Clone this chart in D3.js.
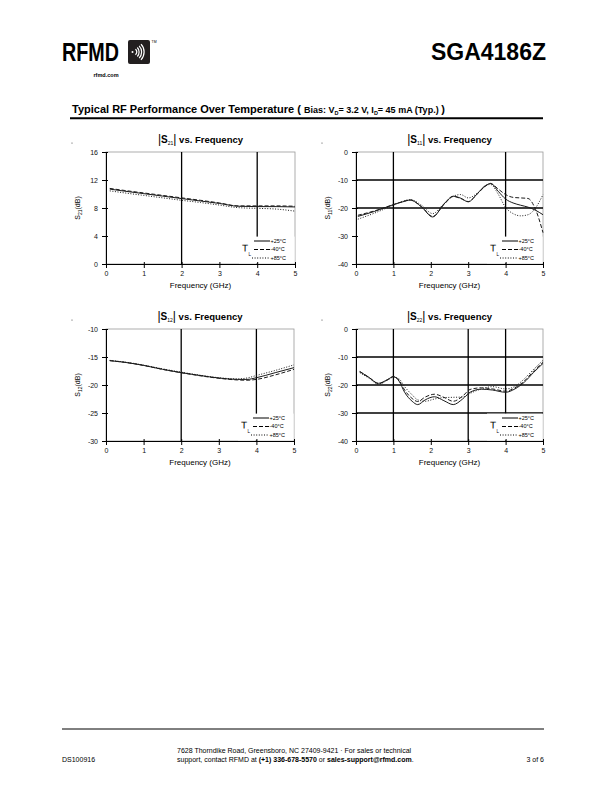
<!DOCTYPE html>
<html>
<head>
<meta charset="utf-8">
<script src="https://cdn.jsdelivr.net/npm/d3@7"></script>
<style>
body { margin: 0; background: #fff; }
svg { display: block; font-family: "Liberation Sans", Arial, sans-serif; }
</style>
</head>
<body>
<svg id="page" width="612" height="792"></svg>
<script>
// legend / series labels
var tempLabels = ["+25°C", "-40°C", "+85°C"];
var freqTicks = [0, 1, 2, 3, 4, 5];

// |S21|
var s21Freq = [0.1, 0.5, 1, 1.5, 2, 2.5, 3, 3.5, 4, 4.5, 5];
var s21P25 = [10.7, 10.4, 10.05, 9.7, 9.35, 9.0, 8.65, 8.25, 8.2, 8.2, 8.15];
var s21M40 = [10.8, 10.5, 10.15, 9.8, 9.45, 9.1, 8.72, 8.3, 8.3, 8.3, 8.25];
var s21P85 = [10.45, 10.15, 9.8, 9.45, 9.1, 8.78, 8.42, 8.05, 7.95, 7.85, 7.55];
var s21Ticks = [0, 4, 8, 12, 16];

// |S11|
var s11Freq = [0.05, 0.5, 1.0, 1.25, 1.45, 1.75, 2.05, 2.35, 2.6, 2.8, 3.0, 3.25, 3.45, 3.6, 3.8, 4.0, 4.2, 4.4, 4.6, 4.8, 5.0];
var s11P25 = [-23.0, -21.2, -18.8, -17.8, -17.2, -19.6, -23.2, -18.6, -15.8, -16.5, -17.8, -14.8, -12.2, -11.2, -14.0, -16.8, -18.2, -19.0, -19.7, -20.8, -22.4];
var s11M40 = [-22.6, -21.0, -18.8, -17.7, -17.1, -19.5, -23.0, -18.8, -15.9, -16.6, -17.7, -14.9, -12.3, -11.3, -13.2, -15.2, -16.2, -16.4, -16.6, -20.5, -28.8];
var s11P85 = [-24.0, -21.8, -19.0, -17.6, -17.0, -19.0, -22.0, -18.5, -15.8, -15.2, -16.4, -14.6, -12.0, -11.6, -15.0, -19.8, -22.0, -22.8, -22.4, -20.0, -15.2];
var s11Ticks = [-40, -30, -20, -10, 0];

// |S12|
var s12Freq = [0.1, 0.5, 1, 1.5, 2, 2.5, 3, 3.5, 3.75, 4, 4.5, 5];
var s12P25 = [-15.65, -15.95, -16.5, -17.2, -17.8, -18.3, -18.75, -19.0, -19.0, -18.7, -17.8, -16.9];
var s12M40 = [-15.65, -15.95, -16.5, -17.2, -17.8, -18.35, -18.8, -19.1, -19.15, -19.0, -18.2, -17.2];
var s12P85 = [-15.6, -15.9, -16.45, -17.1, -17.7, -18.25, -18.7, -18.9, -18.75, -18.3, -17.4, -16.4];
var s12Ticks = [-30, -25, -20, -15, -10];

// |S22|
var s22Freq = [0.1, 0.35, 0.6, 0.85, 1.0, 1.15, 1.3, 1.5, 1.65, 1.85, 2.1, 2.35, 2.6, 2.85, 3.05, 3.35, 3.65, 4.0, 4.25, 4.5, 4.75, 5.0];
var s22P25 = [-15.2, -17.3, -19.4, -18.0, -17.0, -18.6, -22.6, -25.8, -27.0, -25.3, -24.2, -25.6, -27.0, -25.0, -22.6, -21.5, -21.8, -22.6, -21.4, -19.0, -15.5, -12.3];
var s22M40 = [-15.2, -17.3, -19.5, -18.1, -17.0, -18.3, -21.8, -24.8, -25.9, -24.3, -23.3, -24.4, -25.8, -24.0, -21.6, -21.0, -21.4, -22.2, -21.0, -18.6, -15.0, -11.9];
var s22P85 = [-15.6, -17.6, -19.7, -18.2, -17.2, -17.8, -20.6, -23.5, -25.3, -25.8, -25.0, -24.5, -24.4, -24.3, -23.0, -21.4, -20.6, -21.4, -20.5, -17.8, -14.4, -11.2];
var s22Ticks = [-40, -30, -20, -10, 0];

var dashes = [null, "4,2", "1,1.6"];
var svg = d3.select("#page");

// ---------- page header ----------
svg.append("text").attr("x", 62).attr("y", 61)
    .attr("font-size", 25).attr("font-weight", "bold")
    .attr("textLength", 57).attr("lengthAdjust", "spacingAndGlyphs")
    .text("RFMD");
svg.append("rect").attr("x", 128).attr("y", 40).attr("width", 22).attr("height", 24)
    .attr("rx", 2).attr("fill", "#231f20");
svg.append("circle").attr("cx", 132.5).attr("cy", 52).attr("r", 1).attr("fill", "#fff");
[3.5, 6, 8.5, 11].forEach(function (r) {
    var arc = d3.arc().innerRadius(r).outerRadius(r + 1.2)
        .startAngle(Math.PI / 2 - 0.75).endAngle(Math.PI / 2 + 0.75);
    svg.append("path").attr("d", arc()).attr("transform", "translate(132.5,52)").attr("fill", "#fff");
});
svg.append("text").attr("x", 151.5).attr("y", 43).attr("font-size", 3.5).text("TM");
svg.append("text").attr("x", 106).attr("y", 77).attr("text-anchor", "middle")
    .attr("font-size", 5.5).attr("font-weight", "bold").text("rfmd.com");
svg.append("text").attr("x", 546).attr("y", 60).attr("text-anchor", "end")
    .attr("font-size", 23).attr("font-weight", "bold").text("SGA4186Z");

// section title
var head = svg.append("text").attr("x", 72).attr("y", 113).attr("font-weight", "bold");
head.append("tspan").attr("font-size", 11).text("Typical RF Performance Over Temperature  ");
head.append("tspan").attr("font-size", 11).text("( ");
head.append("tspan").attr("font-size", 9).text("Bias: V");
head.append("tspan").attr("font-size", 5.5).attr("dy", 1.5).text("D");
head.append("tspan").attr("font-size", 9).attr("dy", -1.5).text("= 3.2 V,  I");
head.append("tspan").attr("font-size", 5.5).attr("dy", 1.5).text("D");
head.append("tspan").attr("font-size", 9).attr("dy", -1.5).text("= 45 mA (Typ.) ");
head.append("tspan").attr("font-size", 11).text(")");
svg.append("line").attr("x1", 70).attr("x2", 543).attr("y1", 118.3).attr("y2", 118.3)
    .attr("stroke", "#000").attr("stroke-width", 2);

// ---------- charts ----------
function drawChart(cfg) {
    var g = svg.append("g");
    var x = d3.scaleLinear().domain([0, 5]).range([cfg.left, cfg.right]);
    var y = d3.scaleLinear().domain([cfg.ticks[0], cfg.ticks[cfg.ticks.length - 1]]).range([cfg.bottom, cfg.top]);

    g.append("circle").attr("cx", cfg.left - 34).attr("cy", cfg.top - 9).attr("r", 0.6).attr("fill", "#444");

    // light frame
    g.append("rect").attr("x", cfg.left).attr("y", cfg.top)
        .attr("width", cfg.right - cfg.left).attr("height", cfg.bottom - cfg.top)
        .attr("fill", "none").attr("stroke", "#999").attr("stroke-width", 0.8);

    // grid lines
    g.selectAll(".vg").data(cfg.vGrid).enter().append("line")
        .attr("x1", function (d) { return x(d); }).attr("x2", function (d) { return x(d); })
        .attr("y1", cfg.top).attr("y2", cfg.bottom)
        .attr("stroke", "#000").attr("stroke-width", 1.3);
    g.selectAll(".hg").data(cfg.hGrid).enter().append("line")
        .attr("x1", cfg.left).attr("x2", cfg.right)
        .attr("y1", function (d) { return y(d); }).attr("y2", function (d) { return y(d); })
        .attr("stroke", "#000").attr("stroke-width", 1.3);

    // legend box hides grid underneath
    var legTop = cfg.bottom - 27.4;
    g.append("rect").attr("x", cfg.right - 56).attr("y", legTop)
        .attr("width", 55.6).attr("height", cfg.bottom - legTop - 0.6).attr("fill", "#fff");

    // curves
    var line = d3.line()
        .x(function (d) { return x(d[0]); })
        .y(function (d) { return y(d[1]); })
        .curve(d3.curveMonotoneX);
    cfg.series.forEach(function (s, i) {
        g.append("path").datum(d3.zip(cfg.freq, s))
            .attr("d", line).attr("fill", "none")
            .attr("stroke", "#1a1a1a").attr("stroke-width", 1)
            .attr("stroke-dasharray", dashes[i]);
    });

    // axes
    var plain = function (d) { return String(d); };
    var xAxis = g.append("g").attr("transform", "translate(0," + cfg.bottom + ")")
        .call(d3.axisBottom(x).tickValues(freqTicks).tickFormat(plain)
            .tickSizeInner(4).tickSizeOuter(0).tickPadding(3));
    xAxis.selectAll(".tick line").attr("y1", -2);
    var yAxis = g.append("g").attr("transform", "translate(" + cfg.left + ",0)")
        .call(d3.axisLeft(y).tickValues(cfg.ticks).tickFormat(plain)
            .tickSizeInner(4).tickSizeOuter(0).tickPadding(4));
    yAxis.selectAll(".tick line").attr("x1", 2);
    g.selectAll(".domain").attr("stroke", "#000");
    g.selectAll(".tick text").attr("font-size", 7).attr("font-family", "Liberation Sans, Arial, sans-serif").attr("fill", "#111");

    g.append("text").attr("x", (cfg.left + cfg.right) / 2).attr("y", cfg.bottom + 23.5)
        .attr("text-anchor", "middle").attr("font-size", 8).text("Frequency (GHz)");

    var yl = g.append("text").attr("text-anchor", "middle").attr("font-size", 7)
        .attr("transform", "translate(" + (cfg.left - 26) + "," + ((cfg.top + cfg.bottom) / 2) + ") rotate(-90)");
    yl.append("tspan").text("S");
    yl.append("tspan").attr("font-size", 5).attr("dy", 1.5).text(cfg.sub);
    yl.append("tspan").attr("dy", -1.5).text("(dB)");

    // title
    var t = g.append("text").attr("x", (cfg.left + cfg.right) / 2).attr("y", cfg.top - 9)
        .attr("text-anchor", "middle");
    t.append("tspan").attr("font-size", 12).text("|");
    t.append("tspan").attr("font-size", 10).attr("font-weight", "bold").text("S");
    t.append("tspan").attr("font-size", 5).attr("dy", 2).text(cfg.sub);
    t.append("tspan").attr("font-size", 12).attr("dy", -2).text("|");
    t.append("tspan").attr("font-size", 9.5).attr("font-weight", "bold").text(" vs. Frequency");

    // legend
    tempLabels.forEach(function (lab, i) {
        var ry = cfg.bottom - 23 + i * 8.5;
        g.append("line").attr("x1", cfg.right - (i == 2 ? 43 : 41)).attr("x2", cfg.right - 25)
            .attr("y1", ry).attr("y2", ry)
            .attr("stroke", "#000").attr("stroke-width", 1).attr("stroke-dasharray", dashes[i]);
        g.append("text").attr("x", cfg.right - 24.5).attr("y", ry + 1.9)
            .attr("font-size", 5.5).attr("fill", "#000").text(lab);
    });
    // slight rotation keeps the T on greyscale antialiasing
    g.append("text").attr("font-size", 10).attr("fill", "#000")
        .attr("transform", "translate(" + (cfg.right - 53) + "," + (cfg.bottom - 12.5) + ") rotate(0.3)")
        .text("T");
    g.append("text").attr("x", cfg.right - 46.5).attr("y", cfg.bottom - 8.5)
        .attr("font-size", 4.5).attr("fill", "#000").text("L");
}

drawChart({ left: 106, right: 295, top: 152, bottom: 264, sub: "21", ticks: s21Ticks,
    vGrid: [2, 4], hGrid: [], freq: s21Freq, series: [s21P25, s21M40, s21P85] });
drawChart({ left: 356, right: 543, top: 152, bottom: 264, sub: "11", ticks: s11Ticks,
    vGrid: [1, 4], hGrid: [-10, -20], freq: s11Freq, series: [s11P25, s11M40, s11P85] });
drawChart({ left: 106, right: 294, top: 329, bottom: 441, sub: "12", ticks: s12Ticks,
    vGrid: [2, 4], hGrid: [], freq: s12Freq, series: [s12P25, s12M40, s12P85] });
drawChart({ left: 356, right: 543, top: 329, bottom: 441, sub: "22", ticks: s22Ticks,
    vGrid: [1, 3, 4], hGrid: [-10, -20, -30], freq: s22Freq, series: [s22P25, s22M40, s22P85] });

// ---------- footer ----------
svg.append("line").attr("x1", 62).attr("x2", 544).attr("y1", 729).attr("y2", 729)
    .attr("stroke", "#000").attr("stroke-width", 1);
svg.append("text").attr("x", 62).attr("y", 762).attr("font-size", 7).text("DS100916");
svg.append("text").attr("x", 177).attr("y", 752.5).attr("font-size", 7)
    .text("7628 Thorndike Road, Greensboro, NC  27409-9421 · For sales or technical");
var ft = svg.append("text").attr("x", 177).attr("y", 762).attr("font-size", 7);
ft.append("tspan").text("support, contact RFMD at ");
ft.append("tspan").attr("font-weight", "bold").text("(+1) 336-678-5570");
ft.append("tspan").text(" or ");
ft.append("tspan").attr("font-weight", "bold").text("sales-support@rfmd.com");
ft.append("tspan").text(".");
svg.append("text").attr("x", 544).attr("y", 762).attr("text-anchor", "end").attr("font-size", 7).text("3 of 6");
</script>
</body>
</html>
